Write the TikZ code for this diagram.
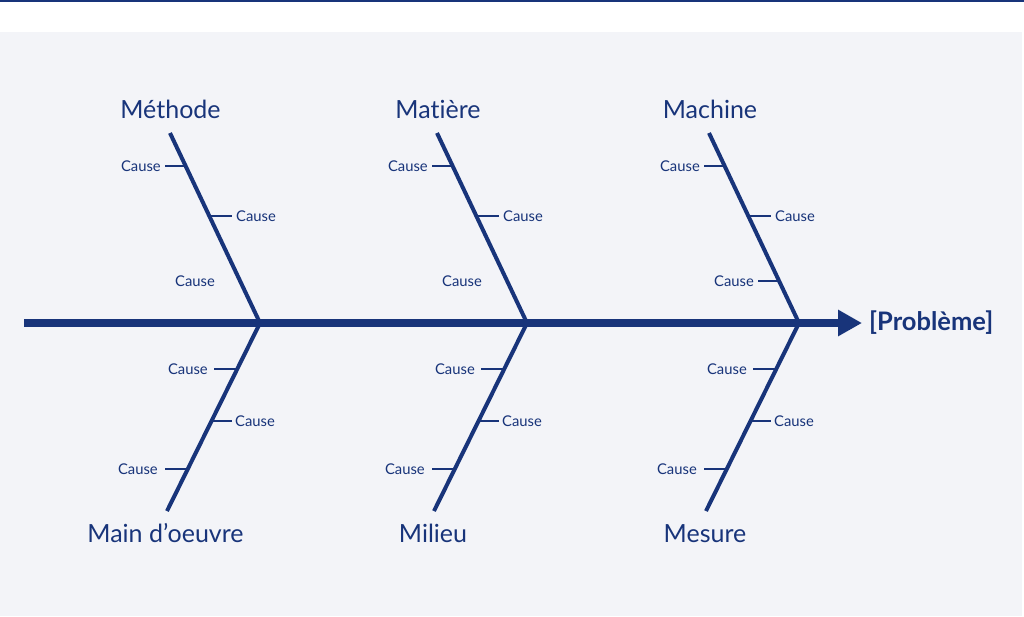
\documentclass[tikz,border=0pt]{standalone}
\usepackage{fontspec}
\setmainfont{Lato}[Ligatures={NoCommon,NoRare}]
\usetikzlibrary{arrows.meta}
\definecolor{navy}{RGB}{24,52,122}
\definecolor{bgc}{RGB}{243,244,248}
\begin{document}
\begin{tikzpicture}[x=1pt,y=-1pt,
  bone/.style={navy,line width=4pt},
  tickln/.style={navy,line width=2pt},
  spine/.style={navy,line width=8pt,-{Triangle[length=24pt,width=25pt]}},
  causelbl/.style={text=navy,font=\fontsize{14.8}{16}\selectfont,inner sep=0pt},
  catlbl/.style={text=navy,font=\fontsize{25}{28}\selectfont,inner sep=0pt,anchor=base},
  problbl/.style={text=navy,font=\fontsize{25.5}{28}\selectfont\bfseries,inner sep=0pt,anchor=west},
]
\useasboundingbox (0,0) rectangle (1024,616);
\fill[white] (0,0) rectangle (1024,32);
\fill[bgc] (0,32) rectangle (1022,616);
\fill[navy] (0,0) rectangle (1024,2);

% spine
\coordinate (tail) at (24,323);
\node[problbl] (prob) at (869,323) {[Problème]};
\coordinate (head) at (862,323);

\foreach \i/\dx in {0/0,1/267,2/539}{
  \begin{scope}[xshift=\dx pt]
    \coordinate (top\i) at (170,133);
    \coordinate (j\i) at (260,323);
    \coordinate (bot\i) at (167,511);
    \draw[bone] (top\i) -- (j\i) -- (bot\i);
    % upper causes
    \coordinate (ua\i) at (185.6,166);
    \coordinate (uae\i) at (165,166);
    \draw[tickln] (ua\i) -- (uae\i);
    \node[causelbl,anchor=east] (cua\i) at (161,166) {Cause};
    \coordinate (ub\i) at (209.3,216);
    \coordinate (ube\i) at (232,216);
    \draw[tickln] (ub\i) -- (ube\i);
    \node[causelbl,anchor=west] (cub\i) at (236,216) {Cause};
    \node[causelbl,anchor=west] (cuc\i) at (175,281) {Cause};
    % lower causes
    \coordinate (la\i) at (237.2,369);
    \coordinate (lae\i) at (214,369);
    \draw[tickln] (la\i) -- (lae\i);
    \node[causelbl,anchor=east] (cla\i) at (208,369) {Cause};
    \coordinate (lb\i) at (211.5,421);
    \coordinate (lbe\i) at (232,421);
    \draw[tickln] (lb\i) -- (lbe\i);
    \node[causelbl,anchor=west] (clb\i) at (235,421) {Cause};
    \coordinate (lc\i) at (187.8,469);
    \coordinate (lce\i) at (165,469);
    \draw[tickln] (lc\i) -- (lce\i);
    \node[causelbl,anchor=east] (clc\i) at (158,469) {Cause};
  \end{scope}
}
% extra tick on Machine's third cause
\coordinate (uc2) at (779,281);
\coordinate (uce2) at (758,281);
\draw[tickln] (uc2) -- (uce2);

\draw[spine] (tail) -- (head);

% category labels
\node[catlbl] (methode) at (170.5,118) {Méthode};
\node[catlbl] (matiere) at (438,118) {Matière};
\node[catlbl] (machine) at (710,118) {Machine};
\node[catlbl] (main) at (165.5,542) {Main d’oeuvre};
\node[catlbl] (milieu) at (433,542) {Milieu};
\node[catlbl] (mesure) at (705,542) {Mesure};
\end{tikzpicture}
\end{document}
